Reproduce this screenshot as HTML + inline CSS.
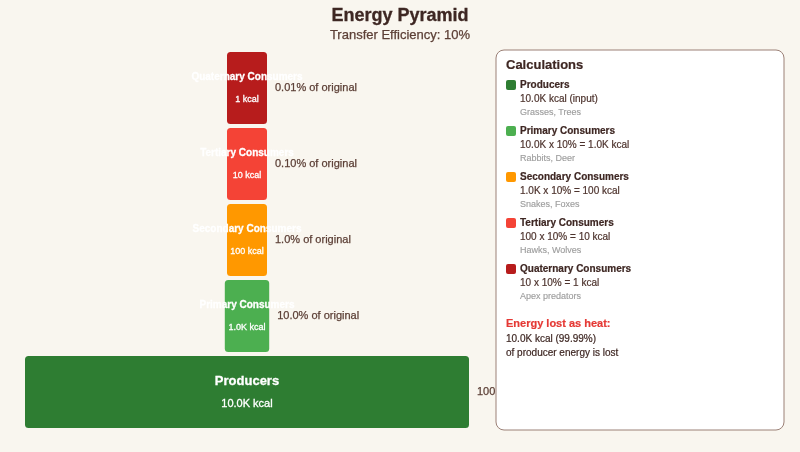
<!DOCTYPE html>
<html lang="en">
<head>
<meta charset="utf-8">
<title>Energy Pyramid</title>
<style>
html,body{margin:0;padding:0;background:#f9f6ef;}
body{width:800px;height:452px;overflow:hidden;position:relative;}
svg{display:block;position:absolute;left:0;top:0;}
text{font-family:"Liberation Sans",Arial,Helvetica,sans-serif;}
.b{font-weight:bold;}
.w{fill:#ffffff;stroke:#ffffff;stroke-width:.3px;}
.d{fill:#3e2723;stroke:#3e2723;stroke-width:.2px;}
.c{fill:#4e342e;stroke:#4e342e;stroke-width:.2px;}
.g{fill:#9e9e9e;stroke:#9e9e9e;stroke-width:.15px;}
.p{fill:#5d4037;stroke:#5d4037;stroke-width:.25px;}
.m{text-anchor:middle;}
</style>
</head>
<body>
<svg width="800" height="452" viewBox="0 0 800 452">
<rect x="0" y="0" width="800" height="452" fill="#f9f6ef"/>

<!-- header -->
<text x="400" y="20.5" class="b m" font-size="18" fill="#3e2723" stroke="#3e2723" stroke-width=".3">Energy Pyramid</text>
<text x="400" y="38.5" class="m" font-size="13" fill="#5d4037" stroke="#5d4037" stroke-width=".25">Transfer Efficiency: 10%</text>

<!-- pyramid -->
<rect x="25" y="356" width="444" height="72" rx="3.5" fill="#2e7d32"/>
<text x="247" y="385" class="b m w" font-size="13">Producers</text>
<text x="247" y="407" class="m w" font-size="11">10.0K kcal</text>
<text x="477" y="395" class="p" font-size="11">100.0% of original</text>

<rect x="224.8" y="280" width="44.4" height="72" rx="3.5" fill="#4caf50"/>
<text x="247" y="308" class="b m w" font-size="10">Primary Consumers</text>
<text x="247" y="330" class="m w" font-size="9">1.0K kcal</text>
<text x="277.2" y="319" class="p" font-size="11">10.0% of original</text>

<rect x="227" y="204" width="40" height="72" rx="3.5" fill="#ff9800"/>
<text x="247" y="232" class="b m w" font-size="10">Secondary Consumers</text>
<text x="247" y="254" class="m w" font-size="9">100 kcal</text>
<text x="275" y="243" class="p" font-size="11">1.0% of original</text>

<rect x="227" y="128" width="40" height="72" rx="3.5" fill="#f44336"/>
<text x="247" y="156" class="b m w" font-size="10">Tertiary Consumers</text>
<text x="247" y="178" class="m w" font-size="9">10 kcal</text>
<text x="275" y="167" class="p" font-size="11">0.10% of original</text>

<rect x="227" y="52" width="40" height="72" rx="3.5" fill="#b71c1c"/>
<text x="247" y="80" class="b m w" font-size="10">Quaternary Consumers</text>
<text x="247" y="102" class="m w" font-size="9">1 kcal</text>
<text x="275" y="91" class="p" font-size="11">0.01% of original</text>

<!-- calculations panel -->
<rect x="496" y="50" width="288" height="380" rx="8" fill="#ffffff" stroke="#9b8076" stroke-width="1"/>
<text x="506" y="69" class="b d" font-size="13">Calculations</text>

<rect x="506" y="80" width="10" height="10" rx="2" fill="#2e7d32"/>
<text x="520" y="88" class="b d" font-size="10">Producers</text>
<text x="520" y="102" class="c" font-size="10">10.0K kcal (input)</text>
<text x="520" y="115" class="g" font-size="9">Grasses, Trees</text>

<rect x="506" y="126" width="10" height="10" rx="2" fill="#4caf50"/>
<text x="520" y="134" class="b d" font-size="10">Primary Consumers</text>
<text x="520" y="148" class="c" font-size="10">10.0K x 10% = 1.0K kcal</text>
<text x="520" y="161" class="g" font-size="9">Rabbits, Deer</text>

<rect x="506" y="172" width="10" height="10" rx="2" fill="#ff9800"/>
<text x="520" y="180" class="b d" font-size="10">Secondary Consumers</text>
<text x="520" y="194" class="c" font-size="10">1.0K x 10% = 100 kcal</text>
<text x="520" y="207" class="g" font-size="9">Snakes, Foxes</text>

<rect x="506" y="218" width="10" height="10" rx="2" fill="#f44336"/>
<text x="520" y="226" class="b d" font-size="10">Tertiary Consumers</text>
<text x="520" y="240" class="c" font-size="10">100 x 10% = 10 kcal</text>
<text x="520" y="253" class="g" font-size="9">Hawks, Wolves</text>

<rect x="506" y="264" width="10" height="10" rx="2" fill="#b71c1c"/>
<text x="520" y="272" class="b d" font-size="10">Quaternary Consumers</text>
<text x="520" y="286" class="c" font-size="10">10 x 10% = 1 kcal</text>
<text x="520" y="299" class="g" font-size="9">Apex predators</text>

<text x="506" y="327" class="b" font-size="11" fill="#e53935" stroke="#e53935" stroke-width=".2">Energy lost as heat:</text>
<text x="506" y="341.5" class="d" font-size="10">10.0K kcal (99.99%)</text>
<text x="506" y="355.5" class="d" font-size="10">of producer energy is lost</text>
</svg>
</body>
</html>
